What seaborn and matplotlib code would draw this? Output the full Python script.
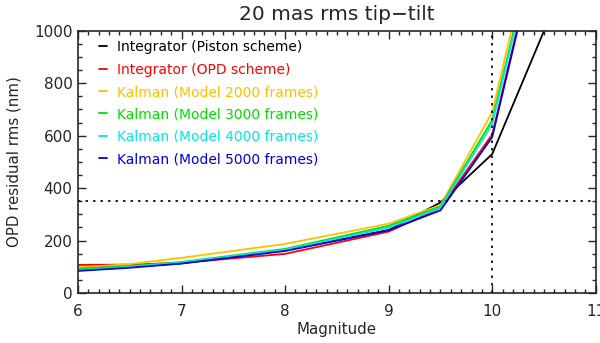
import pandas as pd
import seaborn as sns
import matplotlib.pyplot as plt
from matplotlib.ticker import MultipleLocator

# Data
magnitude = [6, 6.5, 7, 8, 9, 9.5, 10, 10.5]
piston = [95, 100, 113, 163, 240, 345, 530, 1000]
opd = [107, 108, 115, 149, 234, 325, 605, 1440]
kal2000 = [97, 110, 134, 187, 264, 335, 690, 1530]
kal3000 = [92, 103, 118, 168, 256, 330, 660, 1480]
kal4000 = [87, 100, 116, 165, 249, 325, 645, 1470]
kal5000 = [84, 96, 112, 160, 239, 315, 595, 1430]

names = ['Integrator (Piston scheme)', 'Integrator (OPD scheme)',
         'Kalman (Model 2000 frames)', 'Kalman (Model 3000 frames)',
         'Kalman (Model 4000 frames)', 'Kalman (Model 5000 frames)']
colors = ['black', '#ff0000', '#ffbf00', '#00e000', '#00e8e8', '#0000e0']

series = [piston, opd, kal2000, kal3000, kal4000, kal5000]
rows = []
for name, vals in zip(names, series):
    for m, v in zip(magnitude, vals):
        rows.append({'mag': m, 'opd': v, 'curve': name})
df = pd.DataFrame(rows)

sns.set_style('ticks')
plt.rcParams['font.family'] = ['DejaVu Sans']

fig = plt.figure(figsize=(6, 3.43), dpi=100)
ax = fig.add_axes([0.13, 0.146, 0.863, 0.764])

sns.lineplot(data=df, x='mag', y='opd', hue='curve', hue_order=names,
             palette=colors, linewidth=1.3, ax=ax)

ax.axhline(350, color='black', linestyle=(0, (1.5, 3)), linewidth=1.2)
ax.axvline(10, color='black', linestyle=(0, (1.5, 3)), linewidth=1.2)

ax.set_xlim(6, 11)
ax.set_ylim(0, 1000)
ax.xaxis.set_major_locator(MultipleLocator(1))
ax.xaxis.set_minor_locator(MultipleLocator(0.1))
ax.yaxis.set_major_locator(MultipleLocator(200))
ax.yaxis.set_minor_locator(MultipleLocator(50))
ax.tick_params(which='both', direction='in', top=True, right=True, labelsize=11, width=1)
ax.tick_params(which='major', length=6)
ax.tick_params(which='minor', length=3)
ax.tick_params(axis='x', pad=8)
ax.tick_params(axis='y', pad=4)
for s in ax.spines.values():
    s.set_linewidth(1.2)

ax.set_title('20 mas rms tip\u2212tilt', fontsize=14.5, pad=8)
ax.set_xlabel('Magnitude', fontsize=10.8, labelpad=2)
ax.set_ylabel('OPD residual rms (nm)', fontsize=10.8, labelpad=9)

leg = ax.legend(loc='upper left', frameon=False, fontsize=10, handlelength=0.6,
                handletextpad=0.7, labelspacing=0.6, labelcolor='linecolor',
                borderaxespad=0, bbox_to_anchor=(0.03, 0.985))

fig.savefig('out.png', dpi=100)
